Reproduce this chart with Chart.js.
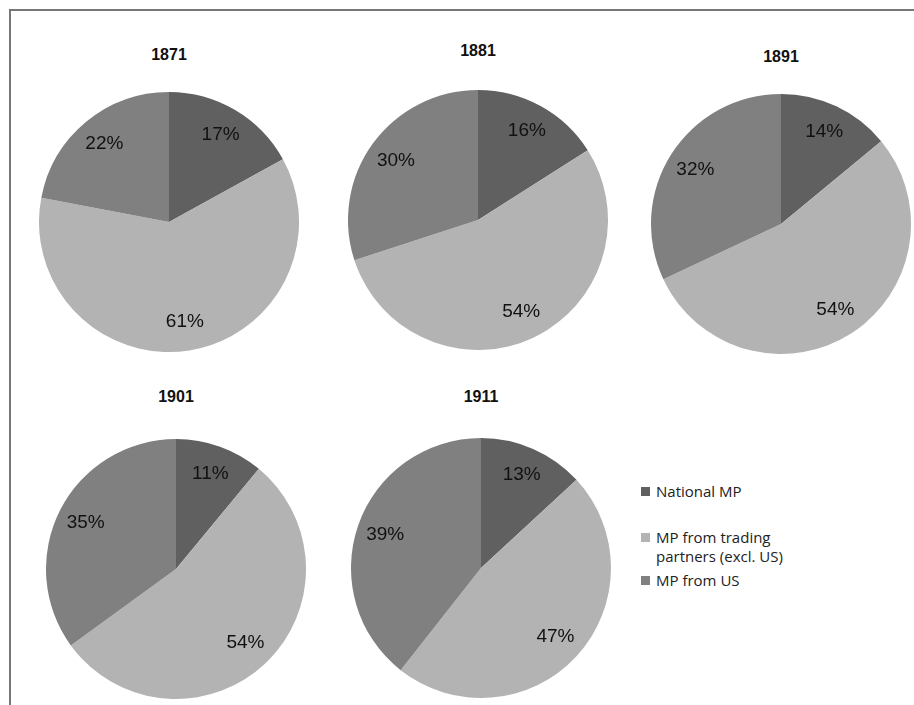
<!DOCTYPE html>
<html>
<head>
<meta charset="utf-8">
<script src="https://cdn.jsdelivr.net/npm/chart.js@4.4.1/dist/chart.umd.min.js"></script>
<style>
  body { margin: 0; background: #fff; width: 914px; height: 705px; overflow: hidden; position: relative; font-family: "Liberation Sans Narrow", "Open Sans", sans-serif; }
  #frame { position: absolute; left: 9px; top: 9px; width: 920px; height: 720px; border-left: 2px solid #777; border-top: 2px solid #777; }
  .pie { position: absolute; }
  .title { position: absolute; width: 120px; text-align: center; font-weight: bold; font-size: 16px; color: #111; font-family: "Liberation Sans Narrow", sans-serif; }
  #legend { position: absolute; left: 641px; top: 482px; font-size: 15px; color: #222; }
  .item { position: absolute; white-space: nowrap; }
  .sw { position: absolute; left: 0; width: 9px; height: 9px; }
  .txt { position: absolute; left: 15px; line-height: 19px; }
</style>
</head>
<body>
<div id="frame"></div>
<div id="legend"></div>
<script>
// --- Data ---
const years = ['1871', '1881', '1891', '1901', '1911'];
const seriesNames = ['National MP', 'MP from trading partners (excl. US)', 'MP from US'];
const nationalMP = [17, 16, 14, 11, 13];
const tradingMP = [61, 54, 54, 54, 47];
const usMP = [22, 30, 32, 35, 39];
const colors = ['#606060', '#b3b3b3', '#808080'];

// --- Layout (centre, radius, title position) ---
const layout = [
  { cx: 169, cy: 222, ty: 46 },
  { cx: 478, cy: 220, ty: 42 },
  { cx: 781, cy: 224, ty: 48 },
  { cx: 176, cy: 569, ty: 388 },
  { cx: 481, cy: 568, ty: 388 }
];
const R = 129;

// --- Label plugin (percent inside each slice) ---
const pctLabels = {
  id: 'pctLabels',
  afterDatasetsDraw(chart) {
    const ctx = chart.ctx;
    const meta = chart.getDatasetMeta(0);
    ctx.save();
    ctx.font = '19px "Liberation Sans Narrow", sans-serif';
    ctx.fillStyle = '#111';
    ctx.textAlign = 'center';
    ctx.textBaseline = 'middle';
    meta.data.forEach((arc, i) => {
      const mid = (arc.startAngle + arc.endAngle) / 2;
      const r = arc.outerRadius * 0.78;
      ctx.fillText(chart.data.datasets[0].data[i] + '%', arc.x + Math.cos(mid) * r, arc.y + Math.sin(mid) * r);
    });
    ctx.restore();
  }
};

years.forEach((year, i) => {
  const L = layout[i];
  const size = R * 2 + 2;
  const canvas = document.createElement('canvas');
  canvas.className = 'pie';
  canvas.width = size;
  canvas.height = size;
  canvas.style.left = (L.cx - size / 2) + 'px';
  canvas.style.top = (L.cy - size / 2) + 'px';
  document.body.appendChild(canvas);

  const t = document.createElement('div');
  t.className = 'title';
  t.textContent = year;
  t.style.left = (L.cx - 60) + 'px';
  t.style.top = L.ty + 'px';
  document.body.appendChild(t);

  new Chart(canvas.getContext('2d'), {
    type: 'pie',
    data: {
      labels: seriesNames,
      datasets: [{
        data: [nationalMP[i], tradingMP[i], usMP[i]],
        backgroundColor: colors,
        borderWidth: 0
      }]
    },
    options: {
      responsive: false,
      animation: false,
      layout: { padding: 0 },
      plugins: { legend: { display: false }, tooltip: { enabled: false } }
    },
    plugins: [pctLabels]
  });
});

// --- Legend ---
const legend = document.getElementById('legend');
const legendLabels = ['National MP', 'MP from trading<br>partners (excl. US)', 'MP from US'];
const legendTops = [0, 46, 89];
legendLabels.forEach((lbl, i) => {
  const item = document.createElement('div');
  item.className = 'item';
  item.style.top = legendTops[i] + 'px';
  item.innerHTML = `<div class="sw" style="background:${colors[i]};top:5px"></div><div class="txt">${lbl}</div>`;
  legend.appendChild(item);
});
</script>
</body>
</html>
